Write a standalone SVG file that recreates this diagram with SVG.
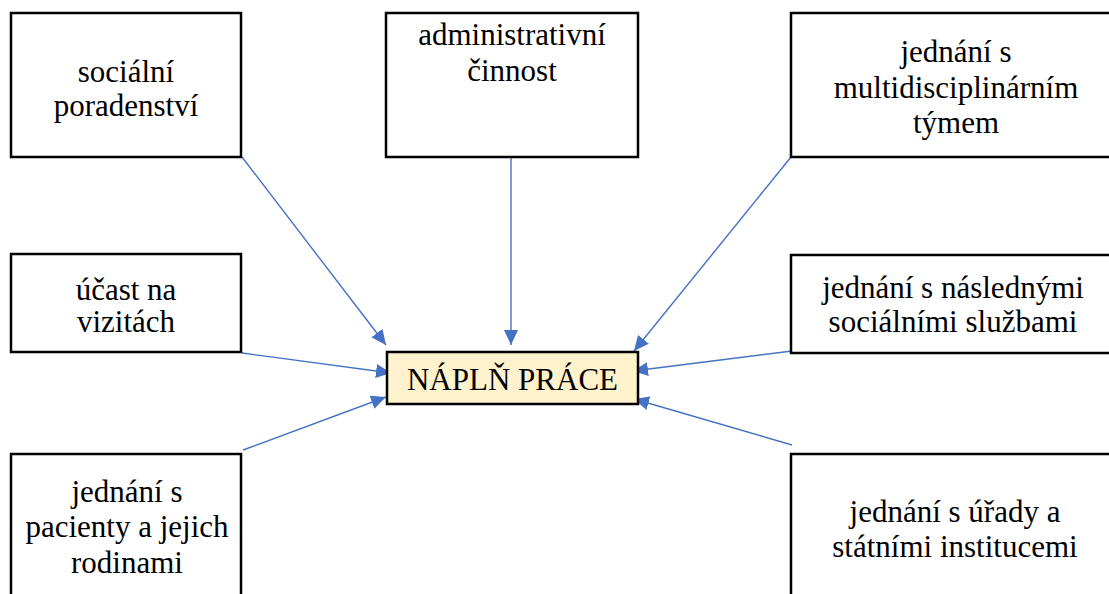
<svg xmlns="http://www.w3.org/2000/svg" width="1109" height="594" viewBox="0 0 1109 594">
<style>
.box{fill:#ffffff;stroke:#000000;stroke-width:2.5}
.center{fill:#fff2cc;stroke:#000000;stroke-width:2.5}
.t{font-family:'Liberation Serif','Times New Roman','DejaVu Serif','Noto Serif',serif;font-size:31px;fill:#000000;text-anchor:middle}
.c{stroke:#4472c4;stroke-width:1.4;fill:none;marker-end:url(#ah)}
</style>
<defs>
<marker id="ah" markerUnits="userSpaceOnUse" markerWidth="16" markerHeight="14" refX="15" refY="7" orient="auto">
<path d="M0,0 L15,7 L0,14 z" fill="#4472c4"/>
</marker>
</defs>
<rect x="0" y="0" width="1109" height="594" fill="#ffffff"/>
<g id="connectors">
<line class="c" x1="242" y1="157" x2="386" y2="345"/>
<line class="c" x1="511" y1="157" x2="511" y2="345"/>
<line class="c" x1="791" y1="157" x2="634" y2="351"/>
<line class="c" x1="242" y1="353" x2="391" y2="373"/>
<line class="c" x1="243" y1="450" x2="386" y2="397"/>
<line class="c" x1="800" y1="350" x2="633" y2="371"/>
<line class="c" x1="792" y1="445" x2="634" y2="399"/>
</g>
<g id="n-socialni">
<rect class="box" x="11" y="13" width="230" height="144"/>
<text class="t" font-family="Liberation Serif, serif" x="126" y="82">sociální</text>
<text class="t" font-family="Liberation Serif, serif" x="126" y="116">poradenství</text>
</g>
<g id="n-admin">
<rect class="box" x="386" y="13" width="252" height="144"/>
<text class="t" font-family="Liberation Serif, serif" x="512" y="45">administrativní</text>
<text class="t" font-family="Liberation Serif, serif" x="512" y="81">činnost</text>
</g>
<g id="n-multi">
<rect class="box" x="791" y="13" width="330" height="144"/>
<text class="t" font-family="Liberation Serif, serif" x="956" y="62">jednání s</text>
<text class="t" font-family="Liberation Serif, serif" x="956" y="98">multidisciplinárním</text>
<text class="t" font-family="Liberation Serif, serif" x="956" y="133">týmem</text>
</g>
<g id="n-ucast">
<rect class="box" x="11" y="254" width="230" height="98"/>
<text class="t" font-family="Liberation Serif, serif" x="126" y="300">účast na</text>
<text class="t" font-family="Liberation Serif, serif" x="126" y="332">vizitách</text>
</g>
<g id="n-nasledne">
<rect class="box" x="791" y="255" width="330" height="98"/>
<text class="t" font-family="Liberation Serif, serif" x="953" y="298">jednání s následnými</text>
<text class="t" font-family="Liberation Serif, serif" x="953" y="332">sociálními službami</text>
</g>
<g id="n-pacienti">
<rect class="box" x="11" y="454" width="230" height="160"/>
<text class="t" font-family="Liberation Serif, serif" x="127" y="502">jednání s</text>
<text class="t" font-family="Liberation Serif, serif" x="127" y="537">pacienty a jejich</text>
<text class="t" font-family="Liberation Serif, serif" x="127" y="573">rodinami</text>
</g>
<g id="n-urady">
<rect class="box" x="791" y="454" width="330" height="160"/>
<text class="t" font-family="Liberation Serif, serif" x="955" y="522">jednání s úřady a</text>
<text class="t" font-family="Liberation Serif, serif" x="955" y="557">státními institucemi</text>
</g>
<g id="n-naplne">
<rect class="center" x="387" y="352" width="251" height="52"/>
<text class="t" font-family="Liberation Serif, serif" x="512.5" y="390">NÁPLŇ PRÁCE</text>
</g>
</svg>
